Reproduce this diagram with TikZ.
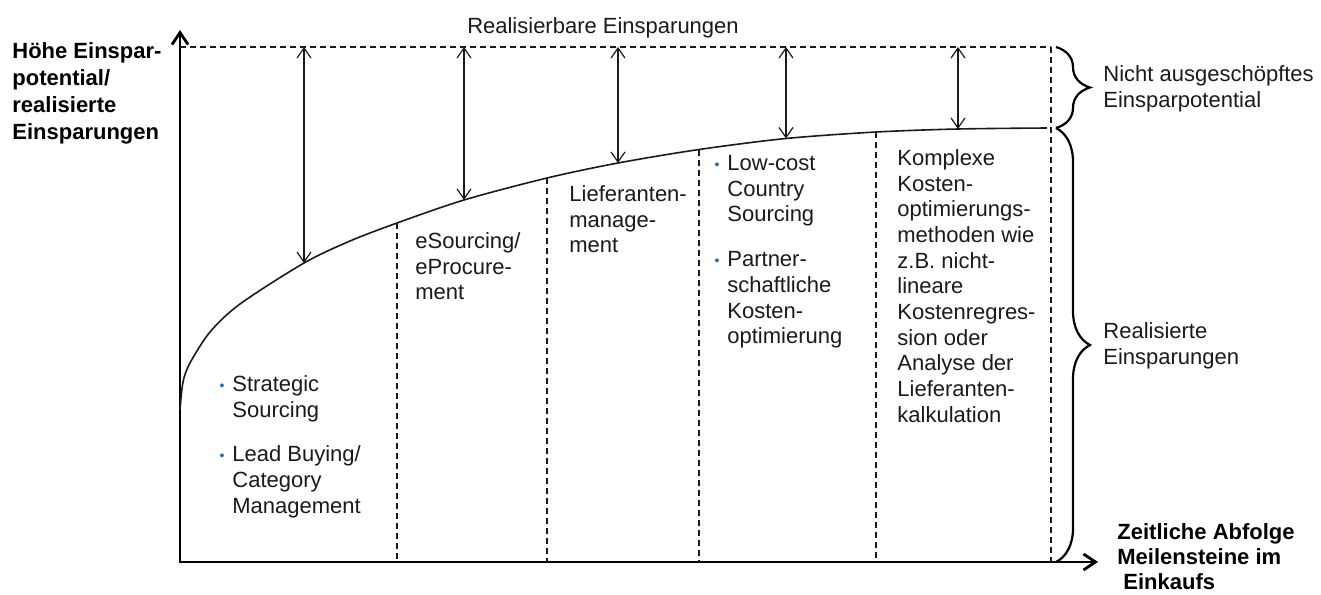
\documentclass[tikz,border=0pt]{standalone}
\usepackage{fontspec}
\setmainfont{Liberation Sans}
\usepackage{xcolor}
\usepackage{tikz}
\usetikzlibrary{arrows.meta, decorations.pathreplacing}
\definecolor{textgrey}{HTML}{1A1A1A}
\definecolor{bulletblue}{HTML}{2B67A3}
\newcommand{\bul}{\makebox[0pt][r]{\textcolor{bulletblue}{\fontsize{7}{7}\selectfont\raisebox{0.6pt}{\textbullet}}\hspace{4pt}}}

\begin{document}
\begin{tikzpicture}[x=0.5pt, y=-0.5pt,
    txt/.style={anchor=north west, inner sep=0pt, align=left, text=textgrey,
      font=\fontsize{11}{12.85}\selectfont},
    axislabel/.style={txt, text=black, font=\fontsize{11}{13.5}\selectfont\bfseries},
    axisline/.style={line width=1.4pt, {Straight Barb[length=6pt, width=8pt]}-{Straight Barb[length=6pt, width=8pt]}},
    realcurve/.style={line width=0.8pt, textgrey},
    phaseline/.style={line width=0.6pt, dash pattern=on 3pt off 2pt, textgrey},
    savingarrow/.style={line width=0.6pt, textgrey, {Straight Barb[length=5pt, width=7pt]}-{Straight Barb[length=5pt, width=7pt]}},
    bracket/.style={line width=1.1pt, decorate, decoration={brace, amplitude=17pt}}]
  \useasboundingbox (0,0) rectangle (1321,594);

  % axes
  \coordinate (o) at (180,562);
  \coordinate (ytip) at (180,30);
  \coordinate (xtip) at (1098,562);
  \draw[axisline] (ytip) -- (o) -- (xtip);

  % points on the savings curve
  \coordinate (a1) at (304,263);
  \coordinate (d1) at (397,223);
  \coordinate (a2) at (464,200);
  \coordinate (d2) at (547,178);
  \coordinate (a3) at (618,163);
  \coordinate (d3) at (699,149.5);
  \coordinate (a4) at (786,138.5);
  \coordinate (d4) at (876,132);
  \coordinate (a5) at (958,129);
  \coordinate (e) at (1047,128);
  \draw[realcurve] plot[smooth] coordinates {(180,410) (183,382) (190,363) (210,332)
    (240,304) (a1) (350,241) (d1) (a2) (d2) (a3) (d3) (a4) (d4) (a5) (e)};

  % potential line and phases
  \coordinate (top) at (180,47);
  \coordinate (r) at (1051,47);
  \draw[phaseline] (top) -- (r);
  \draw[phaseline] (r) -- (r |- o);
  \foreach \p in {d1,d2,d3,d4}
    \draw[phaseline] (\p) -- (\p |- o);
  \foreach \p in {a1,a2,a3,a4,a5}
    \draw[savingarrow] (\p |- top) -- (\p);

  % braces
  \coordinate (bt) at (1056,47);
  \coordinate (bm) at (1056,128);
  \coordinate (bb) at (1056,562);
  \draw[bracket] (bt) -- (bm);
  \draw[bracket] (bm) -- (bb);

  \node[txt, anchor=center] (realisierbar) at (603,28) {Realisierbare Einsparungen};
  \node[axislabel] (hoehe) at (12,42) {Höhe Einspar-\\potential/\\realisierte\\Einsparungen};
  \node[axislabel, font=\fontsize{11}{12.5}\selectfont\bfseries] (zeit) at (1117,523)
    {Zeitliche Abfolge\\Meilensteine im\\\hspace{3pt}Einkaufs};
  \node[txt, font=\fontsize{11}{13.2}\selectfont] (nicht) at (1103,65) {Nicht ausgeschöpftes\\Einsparpotential};
  \node[txt, font=\fontsize{11}{13.2}\selectfont] (realisiert) at (1103,322) {Realisierte\\Einsparungen};

  % phases
  \node[txt] (strategic) at (232,375)
    {\bul Strategic\\Sourcing\\[9.5pt]\bul Lead Buying/\\Category\\Management};
  \node[txt] (esourcing) at (415,232) {eSourcing/\\eProcure-\\ment};
  \node[txt] (lieferanten) at (569,185) {Lieferanten-\\manage-\\ment};
  \node[txt] (lowcost) at (727,155)
    {\bul Low-cost\\Country\\Sourcing\\[9.5pt]\bul Partner-\\schaftliche\\Kosten-\\optimierung};
  \node[txt] (komplex) at (897,149) {Komplexe\\Kosten-\\optimierungs-\\methoden wie\\z.B. nicht-\\lineare\\Kostenregres-\\sion oder\\Analyse der\\Lieferanten-\\kalkulation};
\end{tikzpicture}
\end{document}
